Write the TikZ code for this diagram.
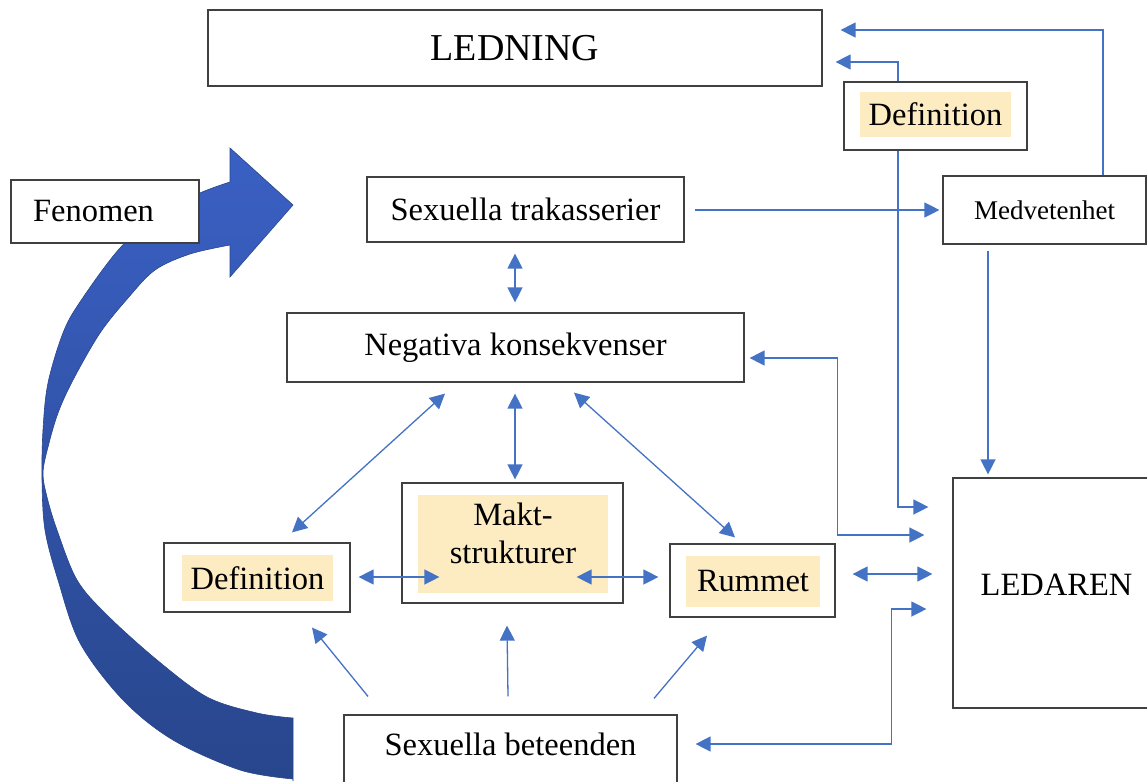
\documentclass[tikz,border=0pt]{standalone}
\usepackage{fontspec}
\setmainfont{Liberation Serif}
\usetikzlibrary{arrows.meta,calc}
\definecolor{boxc}{RGB}{64,64,64}
\definecolor{hlc}{RGB}{253,236,194}
\definecolor{linec}{RGB}{68,114,196}
\definecolor{arrtop}{RGB}{58,96,196}
\definecolor{arrbot}{RGB}{40,70,140}
\newcommand{\fsM}{\fontsize{32.5}{38}\selectfont}
\newcommand{\fsL}{\fontsize{38}{44}\selectfont}
\newcommand{\fsS}{\fontsize{27}{32}\selectfont}
\begin{document}
\begin{tikzpicture}[x=1pt,y=-1pt,
  box/.style={draw=boxc,line width=1.2pt,fill=white,inner sep=0pt,font=\fsM},
  hl/.style={fill=hlc,inner sep=0pt,font=\fsM},
  conn/.style={draw=linec,line width=1.3pt,-{Triangle[length=15pt,width=15pt]}},
  dconn/.style={draw=linec,line width=1.3pt,{Triangle[length=15pt,width=15pt]}-{Triangle[length=15pt,width=15pt]}}
]
\useasboundingbox (0,0) rectangle (1147,781);
\fill[white] (0,0) rectangle (1147,781);

% big curved arrow
\path[top color=arrtop,bottom color=arrbot,draw=arrbot,line width=0.6pt]
  (230,182) -- (230,148) -- (293,205) -- (230,277) -- (230,245)
  -- plot[smooth,tension=0.55] coordinates {(230,245) (190,254) (155,270) (128,298) (100,333) (73,380) (58,413) (48,447) (43,473) (47,497) (57,530) (77,580) (107,615) (157,660) (207,697) (257,713) (293,718)}
  -- (293,781)
  -- plot[smooth,tension=0.55] coordinates {(293,779) (240,770) (173,740) (123,700) (80,643) (58,580) (45,530) (42,480) (43,430) (48,383) (63,333) (80,302) (120,248) (160,214) (200,193) (230,182)}
  -- cycle;

% nodes
\node[box,minimum width=614pt,minimum height=76pt,font=\fsL] (ledning) at (515,48) {LEDNING};
\node[box,minimum width=183pt,minimum height=68pt] (deft) at (935.5,116) {};
\node[hl,minimum width=151pt,minimum height=45pt] (deftx) at (935.5,114.5) {Definition};
\node[box,minimum height=63pt,text width=144pt,inner xsep=22pt,align=left] (fen) at (105,211.5) {Fenomen};
\node[box,minimum width=317pt,minimum height=65pt] (trak) at (525.5,209.5) {Sexuella trakasserier};
\node[box,minimum width=203pt,minimum height=68pt,font=\fsS] (medv) at (1044.5,210) {Medvetenhet};
\node[box,minimum width=457pt,minimum height=69pt] (neg) at (515.5,347.5) {Negativa konsekvenser};
\node[box,minimum width=186pt,minimum height=69pt] (defl) at (257,577.5) {};
\node[hl,minimum width=151pt,minimum height=46pt] (deflx) at (257.5,578) {Definition};
\node[box,minimum width=221pt,minimum height=120pt] (makt) at (512.5,543) {};
\node[hl,minimum width=190pt,minimum height=98pt] (maktbg) at (513,544) {};
\node[inner sep=0pt,align=center,font=\fsM] (maktx) at (513,533) {Makt-\\strukturer};
\node[box,minimum width=165pt,minimum height=73pt] (rum) at (752.5,580.5) {};
\node[hl,minimum width=134pt,minimum height=51pt] (rumx) at (753,581.5) {Rummet};
\node[box,anchor=base,minimum width=207pt,text height=117pt,text depth=113pt] (led) at (1056.5,595) {LEDAREN};
\node[box,anchor=base,minimum width=333pt,text height=40pt,text depth=45pt] (bet) at (510.5,755) {Sexuella beteenden};

% connectors
\draw[dconn] ($(trak.south)+(-10.5,11)$) -- ($(neg.north)+(-0.5,-10)$);
\draw[dconn] ($(neg.south)+(-70.5,11)$) -- ($(defl.north)+(35,-10)$);
\draw[dconn] ($(neg.south)+(-0.5,11)$) -- ($(makt.north)+(2.5,-3)$);
\draw[dconn] ($(neg.south)+(58.5,10)$) -- ($(rum.north)+(-17.5,-6)$);
\draw[dconn] ($(defl.east)+(8,-0.5)$) -- ($(makt.west)+(38,34)$);
\draw[dconn] ($(makt.east)+(-47,34)$) -- ($(rum.west)+(-11,-3.5)$);
\draw[dconn] ($(rum.east)+(17,-6.5)$) -- ($(led.west)+(-20,-19)$);
\draw[dconn] ($(neg.east)+(5,10.5)$) -- ++(88,0) |- ($(led.west)+(-28,-58)$);
\draw[conn] ($(deft.south)+(-37.5,0)$) |- ($(led.west)+(-24,-86)$);
\draw[conn] ($(medv.south)+(-56.5,6)$) -- ($(led.north)+(-68.5,-3)$);
\draw[conn] ($(trak.east)+(10,0.5)$) -- ($(medv.west)+(-3,0)$);
\draw[conn] ($(medv.north)+(58.5,0)$) |- ($(ledning.east)+(18,-18)$);
\draw[conn] ($(deft.north)+(-37.5,0)$) |- ($(ledning.east)+(13,14)$);
\draw[conn] ($(bet.north)+(-142.5,-18)$) -- ($(defl.south)+(55,15)$);
\draw[conn] ($(bet.north)+(-2.5,-18)$) -- ($(makt.south)+(-5.5,22)$);
\draw[conn] ($(bet.north)+(143.5,-16)$) -- ($(rum.south)+(-45.5,18)$);
\draw[dconn] ($(bet.east)+(18,-13.5)$) -- ++(196,0) |- ($(led.west)+(-26,16)$);
\end{tikzpicture}
\end{document}
